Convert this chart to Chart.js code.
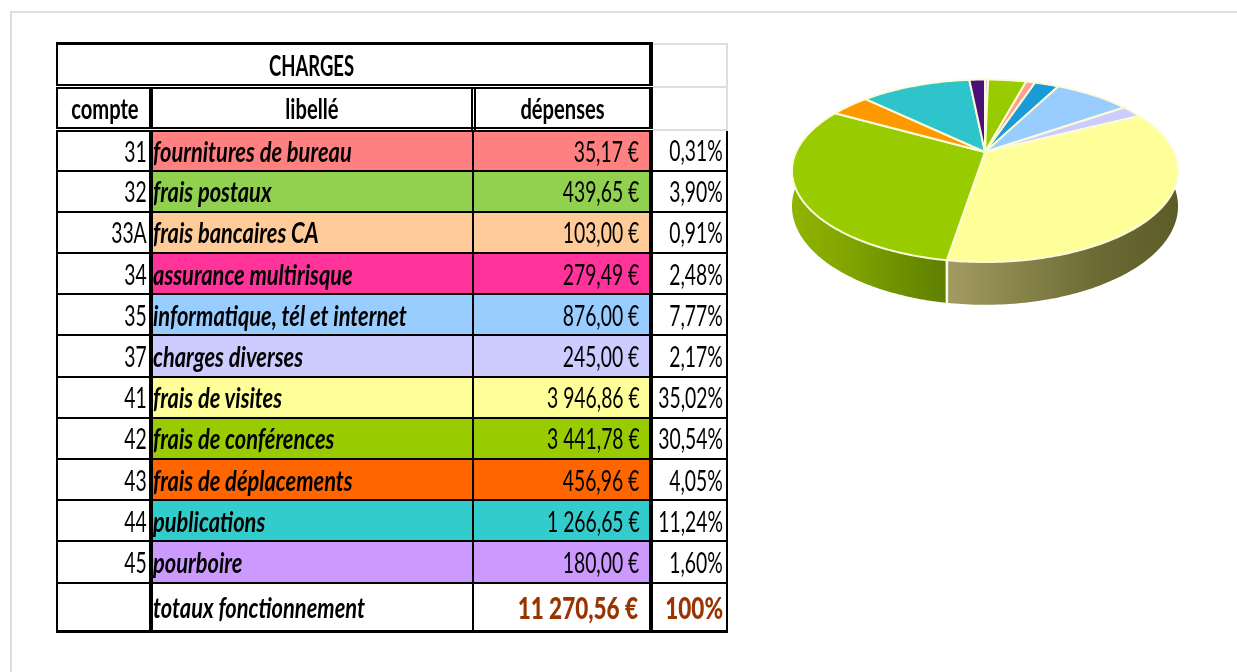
<!DOCTYPE html>
<html lang="fr">
<head>
<meta charset="utf-8">
<title>Charges</title>
<script src="https://cdn.jsdelivr.net/npm/chart.js@4"></script>
<style>
  html, body { margin: 0; height: 100%; background: #fff; overflow: hidden; }
  #frame { position: absolute; left: 10px; top: 11px; width: 1300px; height: 800px; border: solid #dedede; border-width: 2px 0 0 2px; }
  #pie { position: absolute; left: 775px; top: -48px; filter: blur(0.6px); }
  table { position: absolute; left: 56px; top: 42px; width: 670px; table-layout: fixed; border-collapse: collapse; font-family: Lato, sans-serif; font-size: 28px; line-height: 30px; color: #000; filter: blur(0.3px); }
  td { padding: 0; overflow: hidden; white-space: nowrap; box-sizing: border-box; height: 41.2px; border: 2px solid #000; text-align: right; }
  td span { display: inline-block; margin-left: -60px; transform: scaleX(0.69); transform-origin: right center; padding-right: 4px; }
  td.lib { text-align: left; font-weight: bold; font-style: italic; border-left-width: 4px; }
  td.lib span { transform: scaleX(0.78); transform-origin: left center; padding: 0; margin-left: 0; }
  td.dep { border-right-width: 4px; }
  td.dep span { padding-right: 14px; }
  tr.head td { text-align: center; font-weight: bold; font-style: normal; height: 43px; }
  tr.head td span { transform: scaleX(0.72); transform-origin: center; padding: 0; margin-left: 0; }
  tr.title td { border-left: 0; border-right: 0; border-top-width: 3px; border-bottom: 5px double #000; }
  tr.title td.lib span { transform: scaleX(0.66); }
  tr.title td:first-child { border-left: 2px solid #000; }
  tr.title td.dep { border-right: 4px solid #000; }
  tr.cols td { border-bottom: 5px double #000; }
  tr.cols td.lib { border-right: 5px double #000; border-left-width: 4px; }
  td.blank { border: 2px solid #dedede !important; }
  tr.total td { height: 49px; border-bottom-width: 3px; }
  tr.total td.dep, tr.total td.pct { color: #993300; font-weight: 900; font-size: 30px; }
  tr.total td.dep span, tr.total td.pct span { transform: scaleX(0.75); }
</style>
</head>
<body>
<div id="frame"></div>
<table id="charges">
  <colgroup><col style="width:94px"><col style="width:322px"><col style="width:178px"><col style="width:76px"></colgroup>
  <tbody></tbody>
</table>
<canvas id="pie" width="420" height="400"></canvas>
<script>
const comptes = ['31', '32', '33A', '34', '35', '37', '41', '42', '43', '44', '45'];
const libelles = ['fournitures de bureau', 'frais postaux', 'frais bancaires CA', 'assurance multirisque', 'informatique, tél et internet', 'charges  diverses', 'frais de visites', 'frais de conférences', 'frais de déplacements', 'publications', 'pourboire'];
const depenses = [35.17, 439.65, 103.00, 279.49, 876.00, 245.00, 3946.86, 3441.78, 456.96, 1266.65, 180.00];
const parts = ['0,31%', '3,90%', '0,91%', '2,48%', '7,77%', '2,17%', '35,02%', '30,54%', '4,05%', '11,24%', '1,60%'];
const totalLabel = 'totaux fonctionnement';
const totalDepenses = 11270.56;
const totalPart = '100%';

const rowColors = ['#ff8080', '#92d050', '#ffcc99', '#ff3399', '#99ccff', '#ccccff', '#ffff99', '#99cc00', '#ff6600', '#33cccc', '#cc99ff'];
const sliceColors = ['#e6b8e6', '#99cc00', '#ff9f8f', '#1a9ad6', '#99ccff', '#ccccff', '#ffff99', '#99cc00', '#ff9900', '#2ec4cc', '#4b0f78'];

// wall gradients, only the two front slices show a side
const wallStops = {
  6: ['#a39c62', '#86824a', '#6b6a34', '#5c5c28'],
  7: ['#8fb400', '#82a600', '#6f9200', '#5e7f00']
};

function euros(value) {
  const fixed = value.toFixed(2).split('.');
  return fixed[0].replace(/\B(?=(\d{3})+$)/g, ' ') + ',' + fixed[1] + ' €';
}

function cell(text, className, background) {
  const td = document.createElement('td');
  if (className) td.className = className;
  if (background) td.style.background = background;
  const span = document.createElement('span');
  span.textContent = text;
  td.appendChild(span);
  return td;
}

function addRow(className, cells) {
  const tr = document.createElement('tr');
  if (className) tr.className = className;
  cells.forEach((c) => tr.appendChild(c));
  document.querySelector('#charges tbody').appendChild(tr);
}

addRow('head title', [cell(''), cell('CHARGES', 'lib'), cell('', 'dep'), cell('', 'blank')]);
addRow('head cols', [cell('compte'), cell('libellé', 'lib'), cell('dépenses', 'dep'), cell('', 'blank')]);
comptes.forEach((compte, i) => {
  addRow('', [
    cell(compte),
    cell(libelles[i], 'lib', rowColors[i]),
    cell(euros(depenses[i]), 'dep', rowColors[i]),
    cell(parts[i], 'pct')
  ]);
});
addRow('total', [cell(''), cell(totalLabel, 'lib'), cell(euros(totalDepenses), 'dep'), cell(totalPart, 'pct')]);

// perspective of the disc: near side bigger than far side
const tilt = -0.2055;
const spreadX = 0.9445;
const spreadY = 0.437;
const wallDepth = 34;

function project(arc, angle, depth) {
  const u = Math.cos(angle);
  const v = Math.sin(angle);
  const w = 1 + tilt * v;
  return {
    x: arc.x + arc.outerRadius * spreadX * u / w,
    y: arc.y + arc.outerRadius * spreadY * v / w + depth / w
  };
}

function rimPoints(arc, depth, reverse) {
  const points = [];
  const steps = Math.max(2, Math.ceil((arc.endAngle - arc.startAngle) * 60));
  for (let i = 0; i <= steps; i++) {
    const t = reverse ? 1 - i / steps : i / steps;
    points.push(project(arc, arc.startAngle + t * (arc.endAngle - arc.startAngle), depth));
  }
  return points;
}

const pie3d = {
  id: 'pie3d',
  beforeDatasetsDraw(chart) {
    const ctx = chart.ctx;
    const arcs = chart.getDatasetMeta(0).data;

    // side walls first, the top face then hides the back part
    Object.keys(wallStops).forEach((key) => {
      const arc = arcs[key];
      const points = rimPoints(arc, 0, false).concat(rimPoints(arc, wallDepth, true));
      const xs = points.map((p) => p.x);
      const gradient = ctx.createLinearGradient(Math.min(...xs), 0, Math.max(...xs), 0);
      const stops = wallStops[key];
      stops.forEach((color, i) => gradient.addColorStop(i / (stops.length - 1), color));
      ctx.beginPath();
      points.forEach((p, i) => (i ? ctx.lineTo(p.x, p.y) : ctx.moveTo(p.x, p.y)));
      ctx.closePath();
      ctx.fillStyle = gradient;
      ctx.fill();
    });

    // seam between the two walls
    const seamTop = project(arcs[7], arcs[7].startAngle, 0);
    const seamBottom = project(arcs[7], arcs[7].startAngle, wallDepth);
    ctx.beginPath();
    ctx.moveTo(seamTop.x, seamTop.y);
    ctx.lineTo(seamBottom.x, seamBottom.y);
    ctx.strokeStyle = '#fdfde8';
    ctx.lineWidth = 2.5;
    ctx.stroke();

    // top face
    arcs.forEach((arc, i) => {
      ctx.beginPath();
      ctx.moveTo(arc.x, arc.y);
      rimPoints(arc, 0, false).forEach((p) => ctx.lineTo(p.x, p.y));
      ctx.closePath();
      ctx.fillStyle = sliceColors[i];
      ctx.fill();
      ctx.strokeStyle = '#fbfbd8';
      ctx.lineWidth = 2;
      ctx.lineJoin = 'round';
      ctx.stroke();
    });
    return false;
  }
};

new Chart(document.getElementById('pie').getContext('2d'), {
  type: 'pie',
  data: {
    labels: libelles,
    datasets: [{ data: depenses, backgroundColor: sliceColors, borderWidth: 0 }]
  },
  options: {
    responsive: false,
    animation: false,
    events: [],
    plugins: { legend: { display: false }, tooltip: { enabled: false } }
  },
  plugins: [pie3d]
});
</script>
</body>
</html>
